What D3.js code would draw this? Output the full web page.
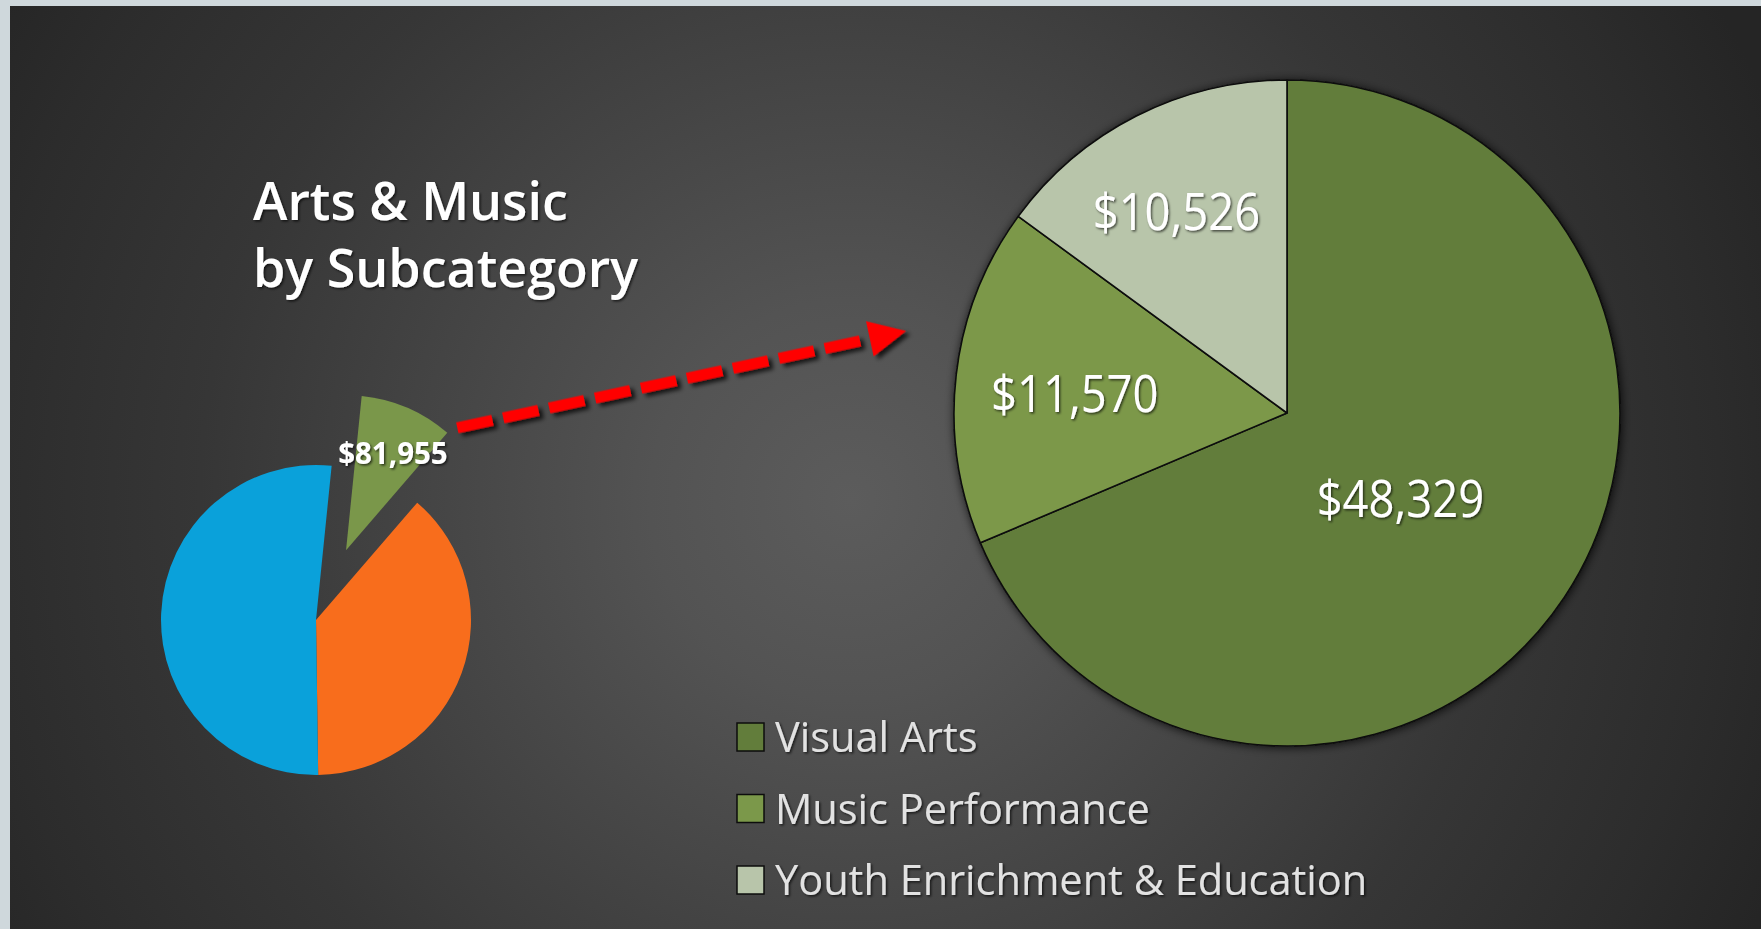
<!DOCTYPE html>
<html>
<head>
<meta charset="utf-8">
<script src="https://cdn.jsdelivr.net/npm/d3@7"></script>
<style>
  html, body { margin: 0; padding: 0; background: #cfd8dc; }
  svg { display: block; }
  text { font-family: "Segoe UI", "Open Sans", "Noto Sans", sans-serif; }
</style>
</head>
<body>
<div id="chart-area"></div>
<script>

// Overall split (the exploded slice is Arts & Music)
var overviewNames = ["Arts & Music", "Other 1", "Other 2"];
var overviewValues = [81955, 324300, 437200];
var overviewColors = ["#7a974a", "#f86d1c", "#0aa1da"];

// Arts & Music by subcategory
var subNames = ["Visual Arts", "Music Performance", "Youth Enrichment & Education"];
var subValues = [48329, 11570, 10526];
var subColors = ["#627d3b", "#7b984a", "#b8c5aa"];

var titleLines = ["Arts & Music", "by Subcategory"];

var width = 1761, height = 929;
var fmt = d3.format("$,");

var svg = d3.select("#chart-area").append("svg")
    .attr("width", width)
    .attr("height", height);

var defs = svg.append("defs");

// background gradient
var grad = defs.append("radialGradient")
    .attr("id", "bg-grad")
    .attr("gradientUnits", "userSpaceOnUse")
    .attr("cx", 850).attr("cy", 500).attr("r", 1000);
[[0, "#5c5c5c"], [0.2, "#535353"], [0.65, "#363636"], [0.87, "#2c2c2c"], [1, "#252525"]]
    .forEach(function(s){
        grad.append("stop").attr("offset", s[0]).attr("stop-color", s[1]);
    });

function shadow(id, dx, dy, blur, op) {
    defs.append("filter").attr("id", id)
        .attr("x", "-20%").attr("y", "-20%").attr("width", "140%").attr("height", "140%")
        .append("feDropShadow")
        .attr("dx", dx).attr("dy", dy).attr("stdDeviation", blur)
        .attr("flood-color", "#000").attr("flood-opacity", op);
}
shadow("text-shadow", 1.5, 1.5, 1, 0.65);
shadow("pie-shadow", 1, 1, 5, 0.8);
shadow("arrow-shadow", 3.5, 4, 2, 0.75);

svg.append("rect")
    .attr("x", 10).attr("y", 6)
    .attr("width", width - 10).attr("height", height - 6)
    .attr("fill", "url(#bg-grad)");

// title
svg.append("text")
    .attr("x", 253).attr("y", 220)
    .attr("fill", "#fff")
    .attr("font-size", 52)
    .attr("font-weight", 600)
    .attr("filter", "url(#text-shadow)")
    .selectAll("tspan")
    .data(titleLines)
    .enter().append("tspan")
    .attr("x", 253)
    .attr("dy", function(d, i){ return i === 0 ? 0 : 67; })
    .text(function(d){ return d; });

// ---- small overview pie ----
var smallR = 155, smallCx = 316, smallCy = 620, explode = 76;
var smallStart = 5.8 * Math.PI / 180;

var smallPie = d3.pie().sort(null)
    .startAngle(smallStart).endAngle(smallStart + 2 * Math.PI);
var smallArc = d3.arc().innerRadius(0).outerRadius(smallR);

var smallData = smallPie(overviewValues);
var small = svg.append("g").attr("transform", "translate(" + smallCx + "," + smallCy + ")");

function offsetOf(d, dist) {
    var a = (d.startAngle + d.endAngle) / 2;
    return [Math.sin(a) * dist, -Math.cos(a) * dist];
}

small.selectAll("path")
    .data(smallData)
    .enter().append("path")
    .attr("d", smallArc)
    .attr("fill", function(d, i){ return overviewColors[i]; })
    .attr("transform", function(d, i){
        var o = offsetOf(d, i === 0 ? explode : 0);
        return "translate(" + o + ")";
    });

var hi = smallData[0];
var hiOff = offsetOf(hi, explode);
var hiLab = offsetOf(hi, 0.7 * smallR);
small.append("text")
    .attr("x", hiOff[0] + hiLab[0] + 4)
    .attr("y", hiOff[1] + hiLab[1] + 3)
    .attr("dy", "0.35em")
    .attr("text-anchor", "middle")
    .attr("fill", "#fff")
    .attr("font-weight", "bold")
    .attr("font-size", 29.5)
    .attr("filter", "url(#text-shadow)")
    .text(fmt(overviewValues[0]));

// ---- big subcategory pie ----
var bigR = 333, bigCx = 1287, bigCy = 413;
var bigPie = d3.pie().sort(null);
var bigArc = d3.arc().innerRadius(0).outerRadius(bigR);
var bigData = bigPie(subValues);

var big = svg.append("g").attr("transform", "translate(" + bigCx + "," + bigCy + ")");

big.append("g")
    .attr("filter", "url(#pie-shadow)")
    .selectAll("path")
    .data(bigData)
    .enter().append("path")
    .attr("d", bigArc)
    .attr("fill", function(d, i){ return subColors[i]; })
    .attr("stroke", "#0d0d0d")
    .attr("stroke-width", 1.6)
    .attr("stroke-linejoin", "round");

// labels: big slice near the middle, narrow slices pushed out so the
// label box stays just inside the rim
var labScale = 0.89, labSize = 51;
var bigLabels = big.selectAll("text")
    .data(bigData)
    .enter().append("text")
    .attr("text-anchor", "middle")
    .attr("dy", "0.35em")
    .attr("fill", "#fff")
    .attr("font-size", labSize)
    .attr("font-weight", 500)
    .attr("filter", "url(#text-shadow)")
    .text(function(d){ return fmt(d.value); });

bigLabels.attr("transform", function(d){
    var a = (d.startAngle + d.endAngle) / 2;
    var ux = Math.sin(a), uy = -Math.cos(a);
    var t;
    if (d.endAngle - d.startAngle > Math.PI) {
        t = 0.43 * bigR;
        return "translate(" + (ux * t - 6) + "," + (uy * t + 7) + ") scale(" + labScale + ",1)";
    }
    var hw = this.getComputedTextLength() * labScale / 2, hh = labSize * 0.36;
    var sx = ux < 0 ? -hw : hw, sy = uy < 0 ? -hh : hh;
    var lim = 0.88 * bigR;
    // solve |t*u + s| = lim
    var b = 2 * (ux * sx + uy * sy), c = sx * sx + sy * sy - lim * lim;
    t = (-b + Math.sqrt(b * b - 4 * c)) / 2;
    return "translate(" + (ux * t - 6) + "," + (uy * t + 5) + ") scale(" + labScale + ",1)";
});

// ---- dashed arrow from the exploded slice to the big pie ----
var corner = [smallCx + hiOff[0] + Math.sin(hi.endAngle) * smallR,
              smallCy + hiOff[1] - Math.cos(hi.endAngle) * smallR];
var aStart = [corner[0] + 10, corner[1] - 5];
var aEnd = [bigCx - bigR - 48, bigCy - 82];
var ang = Math.atan2(aEnd[1] - aStart[1], aEnd[0] - aStart[0]);
var len = Math.hypot(aEnd[0] - aStart[0], aEnd[1] - aStart[1]);
var headL = 37, headW = 36, shaftW = 11;

var arrow = svg.append("g")
    .attr("filter", "url(#arrow-shadow)")
    .attr("transform", "translate(" + aStart + ") rotate(" + (ang * 180 / Math.PI) + ")");

arrow.append("line")
    .attr("x1", 0).attr("y1", 0)
    .attr("x2", len - headL + 2).attr("y2", 0)
    .attr("stroke", "#ff0000")
    .attr("stroke-width", shaftW)
    .attr("stroke-dasharray", "36 11");

arrow.append("path")
    .attr("d", d3.line()([[len - headL, -headW / 2], [len, 0], [len - headL, headW / 2]]) + "Z")
    .attr("fill", "#ff0000");

// ---- legend ----
var legend = svg.append("g").attr("transform", "translate(737,723)");
var item = legend.selectAll("g")
    .data(subNames)
    .enter().append("g")
    .attr("transform", function(d, i){ return "translate(0," + (i * 71.5) + ")"; });

item.append("rect")
    .attr("width", 27).attr("height", 28)
    .attr("fill", function(d, i){ return subColors[i]; })
    .attr("stroke", "#0d0d0d")
    .attr("stroke-width", 1.5);

item.append("text")
    .attr("x", 38).attr("y", 29)
    .attr("fill", "#e2e2e2")
    .attr("font-size", 41.5)
    .attr("filter", "url(#text-shadow)")
    .text(function(d){ return d; });

</script>
</body>
</html>
